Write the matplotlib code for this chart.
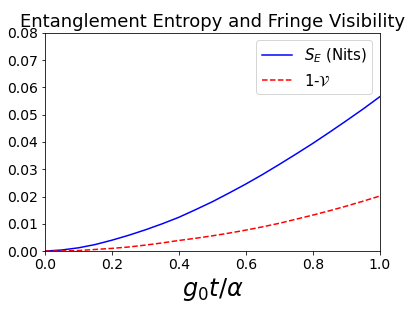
import matplotlib
matplotlib.use("Agg")
import matplotlib.pyplot as plt

x = [0.0, 0.05, 0.1, 0.15, 0.2, 0.25, 0.3, 0.35, 0.4, 0.45, 0.5,
     0.55, 0.6, 0.65, 0.7, 0.75, 0.8, 0.85, 0.9, 0.95, 1.0]
entropy = [0.0, 0.0004, 0.0012, 0.0024, 0.0040, 0.0058, 0.0078, 0.0100, 0.0124, 0.0152, 0.0181,
           0.0213, 0.0246, 0.0281, 0.0318, 0.0356, 0.0395, 0.0436, 0.0478, 0.0521, 0.0566]
one_minus_v = [0.0, 0.00005, 0.0002, 0.0006, 0.0010, 0.0015, 0.0022, 0.0030, 0.0039, 0.0047, 0.0056,
               0.0066, 0.0077, 0.0089, 0.0102, 0.0117, 0.0132, 0.0148, 0.0165, 0.0183, 0.0202]

DPI = 72
fig = plt.figure(figsize=(412 / DPI, 310 / DPI), dpi=DPI)
ax = fig.add_axes([0.109, 0.19, 0.813, 0.704])
ax.plot(x, entropy, color="blue", linestyle="-", label=r"$S_E$ (Nits)")
ax.plot(x, one_minus_v, color="red", linestyle="--", label=r"1-$\mathcal{V}$")
ax.set_xlim(0, 1)
ax.set_ylim(0, 0.08)
ax.set_xticks([0.0, 0.2, 0.4, 0.6, 0.8, 1.0])
ax.set_yticks([0.0, 0.01, 0.02, 0.03, 0.04, 0.05, 0.06, 0.07, 0.08])
ax.tick_params(labelsize=14)
ax.set_xlabel(r"$g_0t/\alpha$", fontsize=24)
ax.set_title("Entanglement Entropy and Fringe Visibility", fontsize=18)
ax.legend(fontsize=15, loc="upper right")
fig.savefig("out.png", dpi=DPI)
